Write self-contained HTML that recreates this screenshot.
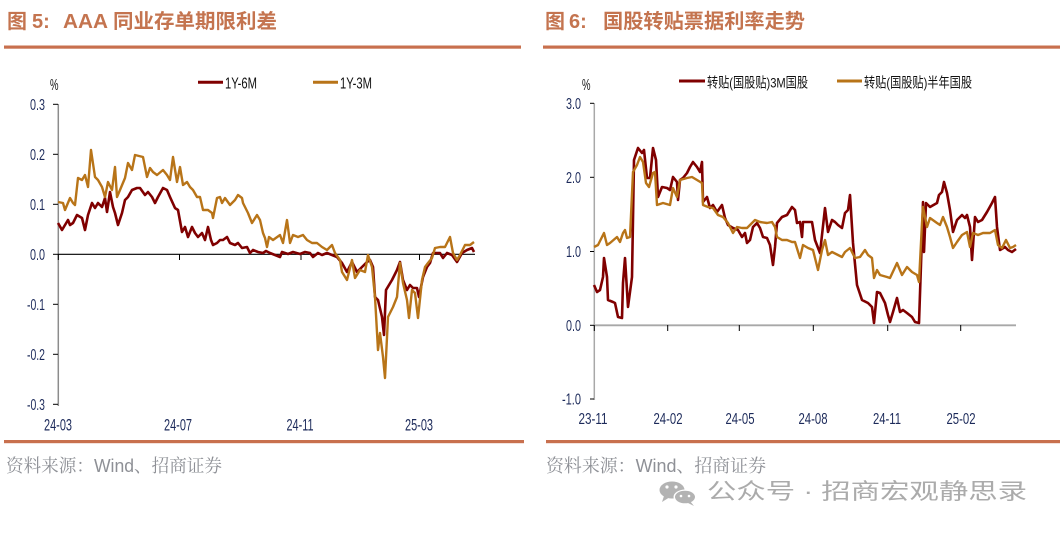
<!DOCTYPE html>
<html>
<head>
<meta charset="utf-8">
<style>
html,body{margin:0;padding:0;background:#fff;}
svg{display:block;}
</style>
</head>
<body>
<svg width="1060" height="540" viewBox="0 0 1060 540" xmlns="http://www.w3.org/2000/svg">
<rect x="0" y="0" width="1060" height="540" fill="#fff"/>

<!-- ===== Titles ===== -->
<g font-family="'Liberation Sans','Noto Sans CJK SC',sans-serif" fill="#C4744F" font-size="20">
  <text x="7" y="28" font-weight="bold">图</text>
  <text x="32" y="28" font-weight="bold">5:</text>
  <text x="63" y="28" font-weight="bold" textLength="45" lengthAdjust="spacingAndGlyphs">AAA</text>
  <text x="113" y="28" font-weight="bold" textLength="164" lengthAdjust="spacingAndGlyphs">同业存单期限利差</text>

  <text x="545" y="28" font-weight="bold">图</text>
  <text x="569" y="28" font-weight="bold">6:</text>
  <text x="603" y="28" font-weight="bold" textLength="202" lengthAdjust="spacingAndGlyphs">国股转贴票据利率走势</text>
</g>
<rect x="4" y="45.5" width="517" height="3.2" fill="#C8704E"/>
<rect x="543" y="45.5" width="517" height="3.2" fill="#C8704E"/>

<!-- bottom rules -->
<rect x="4" y="440" width="520" height="3.2" fill="#C8704E"/>
<rect x="546" y="440" width="514" height="3.2" fill="#C8704E"/>

<!-- sources -->
<g font-family="'Liberation Sans','Noto Serif CJK SC',serif" fill="#8E9096" font-size="18">
  <text x="6" y="472" textLength="216" lengthAdjust="spacingAndGlyphs">资料来源：Wind、招商证券</text>
  <text x="546" y="472" textLength="220" lengthAdjust="spacingAndGlyphs">资料来源：Wind、招商证券</text>
</g>

<!-- watermark -->
<g fill="#B3B3B3">
  <ellipse cx="672" cy="490" rx="12.5" ry="8.5"/>
  <polygon points="664,496 662,502 670,497"/>
  <ellipse cx="685" cy="497" rx="11.5" ry="7.5" fill="#fff"/>
  <ellipse cx="685" cy="497" rx="10" ry="6.3"/>
  <polygon points="690,501 694,506 688,503"/>
  <circle cx="667" cy="487" r="1.6" fill="#fff"/>
  <circle cx="676" cy="487" r="1.6" fill="#fff"/>
  <circle cx="681" cy="496" r="1.3" fill="#fff"/>
  <circle cx="689" cy="496" r="1.3" fill="#fff"/>
</g>
<text x="707" y="499" font-family="'Liberation Sans','Noto Sans CJK SC',sans-serif" font-size="22" fill="#ABABAB" textLength="320" lengthAdjust="spacingAndGlyphs">公众号 · 招商宏观静思录</text>

<!-- ===== LEFT CHART ===== -->
<g font-family="'Liberation Sans',sans-serif">
  <!-- legend -->
  <text x="50" y="90" font-size="16" fill="#111" textLength="8.5" lengthAdjust="spacingAndGlyphs">%</text>
  <line x1="198" y1="82.3" x2="223" y2="82.3" stroke="#800000" stroke-width="3"/>
  <text x="225" y="88.5" font-size="16" fill="#111" textLength="32" lengthAdjust="spacingAndGlyphs">1Y-6M</text>
  <line x1="313" y1="82.3" x2="338" y2="82.3" stroke="#B87418" stroke-width="3"/>
  <text x="340" y="88.5" font-size="16" fill="#111" textLength="32" lengthAdjust="spacingAndGlyphs">1Y-3M</text>

  <!-- y axis -->
  <line x1="58.3" y1="104" x2="58.3" y2="406" stroke="#8c8c8c" stroke-width="1.5"/>
  <g stroke="#000" stroke-width="1">
    <line x1="53" y1="104.3" x2="58" y2="104.3"/>
    <line x1="53" y1="154.3" x2="58" y2="154.3"/>
    <line x1="53" y1="204.3" x2="58" y2="204.3"/>
    <line x1="53" y1="254.3" x2="58" y2="254.3"/>
    <line x1="53" y1="304.3" x2="58" y2="304.3"/>
    <line x1="53" y1="354.3" x2="58" y2="354.3"/>
    <line x1="53" y1="404.3" x2="58" y2="404.3"/>
  </g>
  <g font-size="16" fill="#1C2A5A" text-anchor="end">
    <text x="45" y="110" textLength="15" lengthAdjust="spacingAndGlyphs">0.3</text>
    <text x="45" y="160" textLength="15" lengthAdjust="spacingAndGlyphs">0.2</text>
    <text x="45" y="210" textLength="15" lengthAdjust="spacingAndGlyphs">0.1</text>
    <text x="45" y="260" textLength="15" lengthAdjust="spacingAndGlyphs">0.0</text>
    <text x="45" y="310" textLength="18" lengthAdjust="spacingAndGlyphs">-0.1</text>
    <text x="45" y="360" textLength="18" lengthAdjust="spacingAndGlyphs">-0.2</text>
    <text x="45" y="410" textLength="18" lengthAdjust="spacingAndGlyphs">-0.3</text>
  </g>
  <!-- x axis -->
  <line x1="58" y1="254.3" x2="475" y2="254.3" stroke="#000" stroke-width="1.2"/>
  <g stroke="#000" stroke-width="1">
    <line x1="58.3" y1="254" x2="58.3" y2="260"/>
    <line x1="179.5" y1="254" x2="179.5" y2="260"/>
    <line x1="301" y1="254" x2="301" y2="260"/>
    <line x1="419.5" y1="254" x2="419.5" y2="260"/>
  </g>
  <g font-size="17" fill="#1C2A5A" text-anchor="middle">
    <text x="58" y="430.5" textLength="28" lengthAdjust="spacingAndGlyphs">24-03</text>
    <text x="178" y="430.5" textLength="28" lengthAdjust="spacingAndGlyphs">24-07</text>
    <text x="300" y="430.5" textLength="27" lengthAdjust="spacingAndGlyphs">24-11</text>
    <text x="419" y="430.5" textLength="28" lengthAdjust="spacingAndGlyphs">25-03</text>
  </g>
</g>

<!-- left series -->
<polyline fill="none" stroke="#800000" stroke-width="2.6" stroke-linejoin="round" points="58,223 62,230 65,225 68,220 70,225 73,223 77,215 82,218 85,230 88,215 92,203 95,208 98,203 102,207 105,198 107,212 110,192 113,207 115,213 118,225 122,213 125,200 128,197 132,190 137,188 140,188 145,195 148,192 152,197 155,203 158,197 163,188 167,190 170,197 175,208 178,210 182,232 185,227 188,237 192,227 195,233 198,237 202,233 205,240 208,227 211,240 213,245 217,243 220,240 223,240 227,237 230,243 235,245 238,243 242,248 247,247 250,253 253,250 258,252 263,253 266,251 270,253 275,255 280,257 282,252 288,254 293,252 300,254 305,252 310,253 313,257 318,253 322,255 327,253 332,255 337,257 342,263 347,272 352,262 357,272 362,267 367,262 370,260 373,267 375,297 378,300 382,317 384,335 386,290 392,280 397,270 400,262 403,280 407,290 410,285 413,288 417,288 419,297 423,277 427,267 430,263 433,253 440,253 443,258 447,253 452,255 457,262 462,253 467,250 472,248 474,252"/>
<polyline fill="none" stroke="#B87418" stroke-width="2.4" stroke-linejoin="round" points="58,202 63,203 65,210 70,198 73,203 75,205 78,178 82,180 85,175 88,187 91,150 95,177 98,180 102,187 105,197 108,182 112,190 115,167 117,197 120,190 125,178 128,163 132,170 135,155 143,157 147,177 150,168 153,172 157,175 163,170 167,175 170,180 173,157 177,182 180,167 183,185 187,182 190,187 193,190 197,197 200,197 203,210 208,210 212,213 213,218 217,198 220,197 222,203 225,198 230,205 235,200 238,195 242,198 243,203 248,213 252,223 257,215 260,220 263,233 265,238 267,247 269,237 273,240 280,235 283,243 287,220 290,243 293,235 298,237 303,235 307,240 312,243 317,243 322,247 327,250 332,245 335,253 340,260 342,272 347,280 352,260 355,278 360,270 365,272 368,255 372,267 375,297 378,350 380,333 383,357 385,378 388,317 393,307 397,297 400,263 403,283 407,300 409,318 412,290 415,293 418,318 422,280 425,267 428,263 432,258 435,248 440,247 445,247 450,237 453,253 457,260 460,255 465,245 470,245 474,242"/>

<!-- ===== RIGHT CHART ===== -->
<g font-family="'Liberation Sans','Noto Sans CJK SC',sans-serif">
  <text x="582" y="90" font-size="16" fill="#111" textLength="8.5" lengthAdjust="spacingAndGlyphs">%</text>
  <line x1="679" y1="81" x2="705" y2="81" stroke="#800000" stroke-width="3"/>
  <text x="707" y="87.5" font-size="14" fill="#111" textLength="101" lengthAdjust="spacingAndGlyphs">转贴(国股贴)3M国股</text>
  <line x1="837" y1="81" x2="862" y2="81" stroke="#B87418" stroke-width="3"/>
  <text x="864" y="87.5" font-size="14" fill="#111" textLength="108" lengthAdjust="spacingAndGlyphs">转贴(国股贴)半年国股</text>
</g>
<g font-family="'Liberation Sans',sans-serif">
  <line x1="594.3" y1="103" x2="594.3" y2="400" stroke="#a8a8a8" stroke-width="1.5"/>
  <g stroke="#000" stroke-width="1">
    <line x1="590" y1="103.3" x2="594" y2="103.3"/>
    <line x1="590" y1="177.3" x2="594" y2="177.3"/>
    <line x1="590" y1="251.5" x2="594" y2="251.5"/>
    <line x1="590" y1="325.3" x2="594" y2="325.3"/>
    <line x1="590" y1="399" x2="594" y2="399"/>
  </g>
  <g font-size="16" fill="#1C2A5A" text-anchor="end">
    <text x="581" y="109" textLength="15" lengthAdjust="spacingAndGlyphs">3.0</text>
    <text x="581" y="183" textLength="15" lengthAdjust="spacingAndGlyphs">2.0</text>
    <text x="581" y="257" textLength="15" lengthAdjust="spacingAndGlyphs">1.0</text>
    <text x="581" y="331" textLength="15" lengthAdjust="spacingAndGlyphs">0.0</text>
    <text x="581" y="404.5" textLength="19" lengthAdjust="spacingAndGlyphs">-1.0</text>
  </g>
  <line x1="594" y1="325.3" x2="1016" y2="325.3" stroke="#a8a8a8" stroke-width="1.8"/>
  <g stroke="#000" stroke-width="1">
    <line x1="594.3" y1="325" x2="594.3" y2="331"/>
    <line x1="667.7" y1="325" x2="667.7" y2="331"/>
    <line x1="739.3" y1="325" x2="739.3" y2="331"/>
    <line x1="813.3" y1="325" x2="813.3" y2="331"/>
    <line x1="887.7" y1="325" x2="887.7" y2="331"/>
    <line x1="960.7" y1="325" x2="960.7" y2="331"/>
  </g>
  <g font-size="16" fill="#1C2A5A" text-anchor="middle">
    <text x="593" y="424" textLength="29" lengthAdjust="spacingAndGlyphs">23-11</text>
    <text x="668" y="424" textLength="29" lengthAdjust="spacingAndGlyphs">24-02</text>
    <text x="740" y="424" textLength="29" lengthAdjust="spacingAndGlyphs">24-05</text>
    <text x="813" y="424" textLength="29" lengthAdjust="spacingAndGlyphs">24-08</text>
    <text x="887" y="424" textLength="28" lengthAdjust="spacingAndGlyphs">24-11</text>
    <text x="961" y="424" textLength="29" lengthAdjust="spacingAndGlyphs">25-02</text>
  </g>
</g>

<!-- right series -->
<polyline fill="none" stroke="#800000" stroke-width="2.6" stroke-linejoin="round" points="594,285 597,292 600,290 603,277 604,258 607,277 608,300 613,302 615,303 618,317 622,318 623,283 625,258 628,307 632,277 634,160 638,148 642,153 644,150 647,178 650,178 653,148 656,160 658,197 662,187 667,188 670,190 673,177 677,182 678,200 680,180 683,178 687,173 690,167 693,162 697,167 700,172 702,162 703,202 707,197 710,208 713,205 717,212 722,205 725,218 728,225 733,228 738,230 742,237 745,233 747,243 750,240 753,227 757,223 760,228 763,237 767,238 770,245 773,265 775,247 777,223 782,217 787,215 792,207 795,210 797,223 800,222 802,237 803,222 812,222 815,240 820,253 825,208 828,232 832,220 835,222 838,225 842,228 845,213 848,210 850,195 853,243 857,285 862,300 868,303 872,307 874,323 877,292 880,293 885,303 888,315 890,322 893,312 897,298 900,312 903,310 907,313 912,317 915,322 919,323 922,235 923,202 924,252 926,203 930,207 937,203 939,195 942,192 944,182 947,193 950,210 953,232 957,220 962,215 965,218 967,215 970,227 972,260 975,217 978,222 982,220 987,212 992,203 995,197 997,227 1000,250 1005,247 1008,250 1012,252 1016,249"/>
<polyline fill="none" stroke="#B87418" stroke-width="2.4" stroke-linejoin="round" points="594,247 598,245 602,237 604,233 607,245 610,243 617,237 620,242 623,233 625,230 627,238 630,237 633,172 637,165 640,157 643,162 646,183 649,187 653,173 655,172 657,205 663,203 670,205 673,188 677,197 680,180 687,178 692,177 697,180 702,183 703,205 708,207 713,208 718,215 723,217 728,223 733,233 737,227 742,228 747,228 752,223 755,220 760,222 767,223 772,222 775,227 777,237 782,240 787,240 792,242 795,242 800,258 803,245 808,248 813,250 818,270 822,250 825,240 828,255 832,252 838,255 842,257 845,252 850,248 855,258 860,257 865,250 868,255 872,258 874,278 877,270 880,275 887,277 890,278 897,263 902,275 907,267 912,272 917,275 919,282 922,223 923,207 927,227 930,218 937,223 940,225 943,217 947,227 950,237 953,248 957,242 962,235 967,232 970,247 973,233 978,235 983,233 990,233 995,230 998,245 1002,248 1006,240 1010,248 1013,247 1016,245"/>
</svg>
</body>
</html>
